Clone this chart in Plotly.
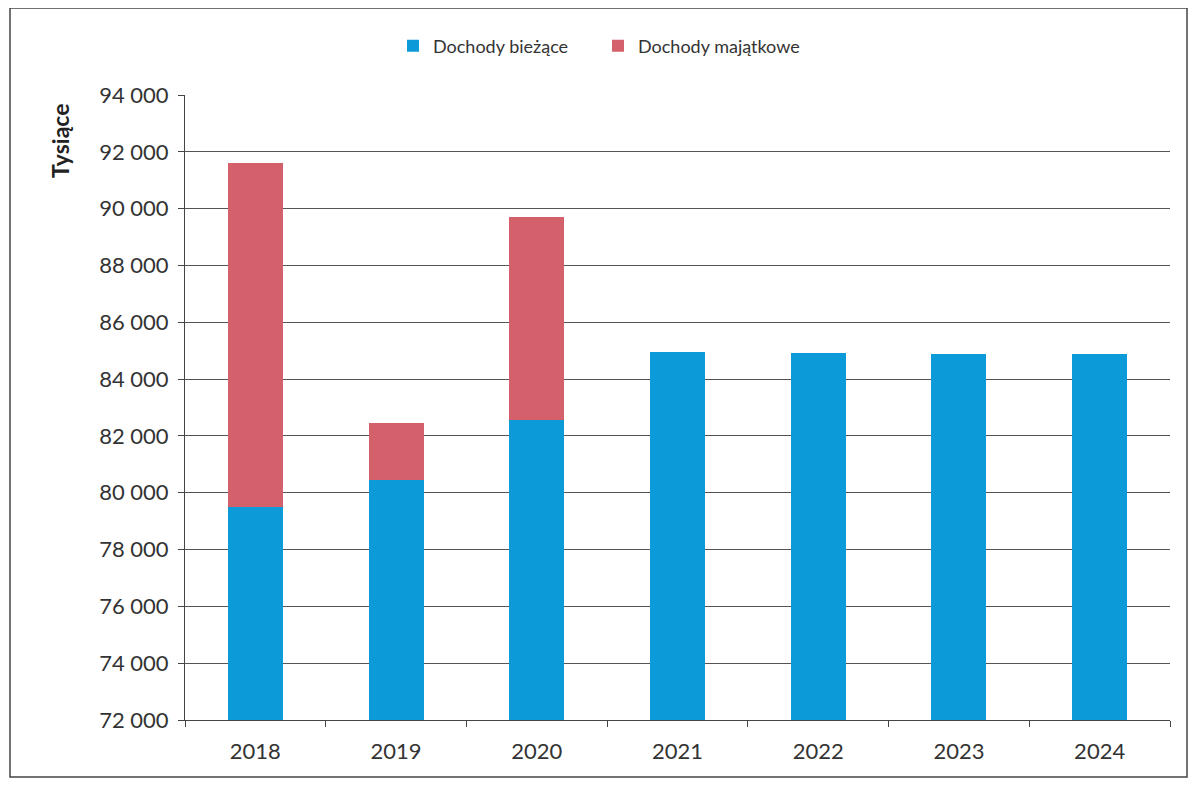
import plotly.graph_objects as go

years = ["2018", "2019", "2020", "2021", "2022", "2023", "2024"]
biezace = [79500, 80450, 82550, 84950, 84920, 84880, 84870]
majatkowe = [12100, 2000, 7150, 0, 0, 0, 0]

blue = "#0C9BD8"
red = "#D4606B"
font_family = "Lato, 'Open Sans', sans-serif"

# page body has an 8px margin; figure coordinates are page coordinates minus 8
O = 8
W, H = 1197 - 2 * O, 786 - 2 * O
l = 185 - O
t = 95 - O
r = W - (1170 - O)
b = H - (720 - O)
pw, ph = W - l - r, H - t - b

def px(x):
    return (x - O - l) / pw

def py(y):
    return (H - b - (y - O)) / ph

fig = go.Figure()
fig.add_trace(go.Bar(x=years, y=biezace, name="Dochody bieżące",
                     marker=dict(color=blue, line=dict(width=0)), width=0.39))
fig.add_trace(go.Bar(x=years, y=majatkowe, name="Dochody majątkowe",
                     marker=dict(color=red, line=dict(width=0)), width=0.39))

fig.update_layout(
    width=W, height=H,
    barmode="stack",
    separators=", ",
    paper_bgcolor="white", plot_bgcolor="white",
    margin=dict(l=l, r=r, t=t, b=b),
    font=dict(family=font_family, color="#333333"),
    legend=dict(orientation="h", x=px(598), xanchor="center",
                y=py(46), yanchor="middle", font=dict(size=18, color="#333333"),
                traceorder="normal", itemwidth=30, bgcolor="rgba(0,0,0,0)",
                entrywidth=160, entrywidthmode="pixels"),
    showlegend=True,
)
fig.update_xaxes(
    type="category", showgrid=False, showline=True, linecolor="#444444", linewidth=1,
    ticks="outside", tickson="boundaries", ticklen=6, tickcolor="#444444",
    tickfont=dict(size=22, color="#333333"), ticklabelstandoff=12,
)
fig.update_yaxes(
    range=[72000, 94000], dtick=2000, tick0=72000, tickformat=",d",
    showgrid=True, gridcolor="#555555", gridwidth=1,
    showline=True, linecolor="#444444", linewidth=1,
    ticks="outside", ticklen=6, tickcolor="#444444",
    tickfont=dict(size=22, color="#333333"), ticklabelstandoff=5,
    zeroline=False,
)
fig.add_annotation(text="<b>Tysiące</b>", textangle=-90, xref="paper", yref="paper",
                   x=px(60), y=py(141), showarrow=False, xanchor="center", yanchor="middle",
                   font=dict(size=23, color="#222222", family=font_family))
fig.add_shape(type="rect", xref="paper", yref="paper",
              x0=px(10), x1=px(1187), y0=py(777), y1=py(8),
              line=dict(color="#444444", width=1.5), fillcolor="rgba(0,0,0,0)", layer="below")

fig.write_html("out.html")
